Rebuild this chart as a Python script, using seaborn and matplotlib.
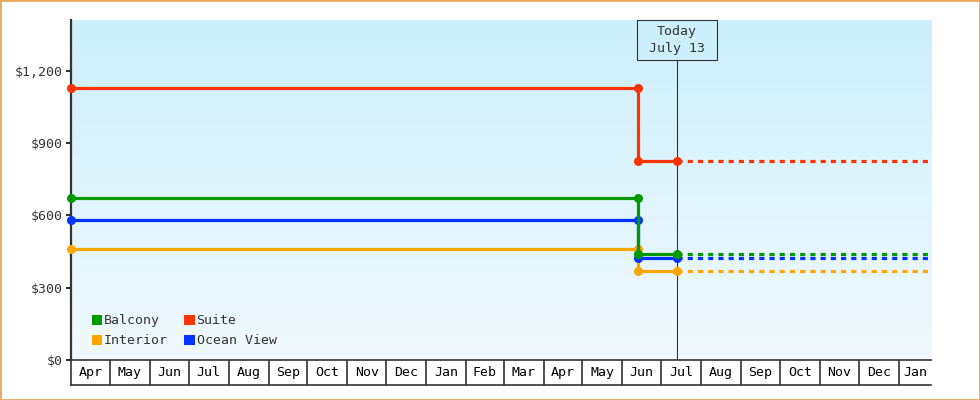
import numpy as np
import pandas as pd
import matplotlib
matplotlib.use("Agg")
import matplotlib.pyplot as plt
import matplotlib.dates as mdates
import matplotlib.transforms as mtransforms
from matplotlib.colors import LinearSegmentedColormap
from matplotlib.patches import Rectangle, Patch
import seaborn as sns

# ---------------- data ----------------
rooms = ["Balcony", "Interior", "Suite", "Ocean View"]
price_before = [670, 460, 1130, 580]
price_after = [440, 370, 825, 423]
room_colors = ["#009900", "#ffa500", "#ff3300", "#0033ff"]
draw_order = ["Interior", "Ocean View", "Balcony", "Suite"]

start_date = "2023-04-01"
change_date = "2024-06-13"
today_date = "2024-07-13"
end_date = "2025-01-26"

month_labels = ["Apr", "May", "Jun", "Jul", "Aug", "Sep", "Oct", "Nov", "Dec", "Jan",
                "Feb", "Mar", "Apr", "May", "Jun", "Jul", "Aug", "Sep", "Oct", "Nov",
                "Dec", "Jan"]
y_ticks = [0, 300, 600, 900, 1200]
y_max = 1410
today_text = "Today\nJuly 13"

# ---------------- style ----------------
sns.set_theme(style="white")
plt.rcParams["font.family"] = ["DejaVu Sans Mono", "DejaVu Sans"]
FS = 9.5
DARK = "#333333"

W, H = 980, 400
fig = plt.figure(figsize=(W / 100, H / 100), dpi=100)
fig.patch.set_facecolor("white")

# plot area: x 71..931, y 20..360 (pixels from top)
ax = fig.add_axes([71 / W, (H - 360) / H, 860 / W, 340 / H])
x0 = mdates.date2num(pd.Timestamp(start_date))
x1 = mdates.date2num(pd.Timestamp(end_date))

# gradient background
cmap = LinearSegmentedColormap.from_list("bg", ["#cceffc", "#f1f9fe"])
ax.imshow(np.linspace(0, 1, 256).reshape(-1, 1), cmap=cmap, aspect="auto",
          extent=[0, 1, 0, 1], transform=ax.transAxes, zorder=0)

lw = 2.3
for name in draw_order:
    i = rooms.index(name)
    b, a, c = price_before[i], price_after[i], room_colors[i]
    solid = pd.DataFrame({
        "date": pd.to_datetime([start_date, change_date, change_date, today_date]),
        "price": [b, b, a, a],
    })
    sns.lineplot(data=solid, x="date", y="price", ax=ax, color=c, lw=lw,
                 marker="o", markersize=6.5, markeredgewidth=0,
                 sort=False, estimator=None, zorder=4, clip_on=False)
    future = pd.DataFrame({
        "date": pd.to_datetime([today_date, end_date]),
        "price": [a, a],
    })
    sns.lineplot(data=future, x="date", y="price", ax=ax, color=c, lw=lw,
                 linestyle=(0, (1.6, 1.6)), sort=False, estimator=None, zorder=3)

ax.set_xlim(x0, x1)
ax.set_ylim(0, y_max)
ax.set_xlabel("")
ax.set_ylabel("")
ax.set_xticks([])
ax.set_yticks(y_ticks)
ax.set_yticklabels([f"${v:,}" for v in y_ticks], fontsize=FS, color=DARK)
ax.tick_params(axis="y", left=True, length=3.6, width=1.5, color=DARK, pad=2)
for s in ["top", "right", "bottom"]:
    ax.spines[s].set_visible(False)
ax.spines["left"].set_color(DARK)
ax.spines["left"].set_linewidth(1.6)
ax.spines["left"].set_zorder(2)
ax.grid(False)

# today marker
today_num = mdates.date2num(pd.Timestamp(today_date))
box_top_frac = (360 - 60) / 340
ax.axvline(today_num, ymin=0, ymax=box_top_frac, color=DARK, lw=0.8, zorder=2)
trans = mtransforms.blended_transform_factory(ax.transData, ax.transAxes)
box_w = 80 / 860 * (x1 - x0)
ax.add_patch(Rectangle((today_num - box_w / 2, box_top_frac), box_w, 1 - box_top_frac,
                       transform=trans, facecolor="#cceffc", edgecolor=DARK,
                       lw=0.8, zorder=5, clip_on=False))
ax.text(today_num, (box_top_frac + 1) / 2, today_text, transform=trans,
        ha="center", va="center", fontsize=FS, color=DARK, linespacing=1.35, zorder=6)

# legend
handles = [Patch(facecolor=room_colors[i], edgecolor="none") for i in range(len(rooms))]
ax.legend(handles, rooms, ncol=2, loc="lower left", bbox_to_anchor=(0.024, 0.037),
          frameon=False, fontsize=FS, handlelength=0.8, handleheight=0.8,
          handletextpad=0.15, columnspacing=1.2, labelspacing=0.55,
          borderpad=0, borderaxespad=0, labelcolor=DARK)

# month band below
ax2 = fig.add_axes([71 / W, (H - 385) / H, 860 / W, 25 / H])
ax2.set_facecolor("white")
ax2.set_xlim(x0, x1)
ax2.set_ylim(0, 1)
ax2.set_xticks([])
ax2.set_yticks([])
for s in ["right"]:
    ax2.spines[s].set_visible(False)
for s in ["top", "bottom", "left"]:
    ax2.spines[s].set_color(DARK)
    ax2.spines[s].set_linewidth(1.2)
month_starts = pd.date_range(start_date, periods=len(month_labels), freq="MS")
ms = [mdates.date2num(d) for d in month_starts]
for k, lab in enumerate(month_labels):
    left = ms[k]
    right = ms[k + 1] if k + 1 < len(ms) else mdates.date2num(month_starts[-1] + pd.offsets.MonthBegin(1))
    right = min(right, x1)
    if k > 0:
        ax2.axvline(left, color=DARK, lw=1.2)
    ax2.text((left + right) / 2, 0.5, lab, ha="center", va="center",
             fontsize=FS, color="black")

# figure border
fig.add_artist(Rectangle((0, 0), 1, 1, transform=fig.transFigure, fill=False,
                         edgecolor="#e8a860", lw=2))

fig.savefig("out.png", dpi=100)
